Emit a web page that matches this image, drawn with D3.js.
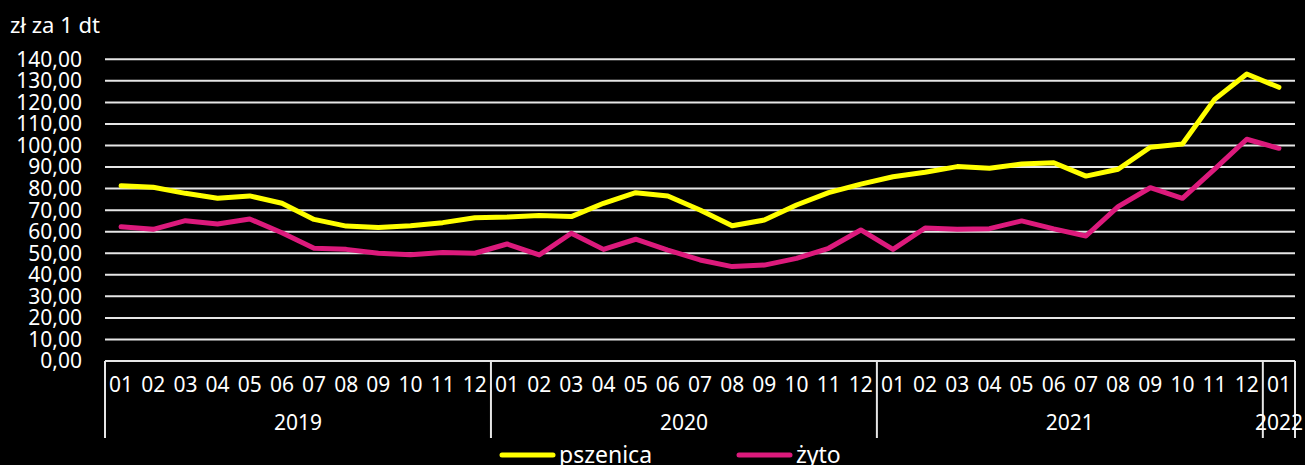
<!DOCTYPE html>
<html>
<head>
<meta charset="utf-8">
<script src="https://cdn.jsdelivr.net/npm/d3@7"></script>
<style>
  body { margin: 0; background: #000; }
  svg text { font-family: "Noto Sans", sans-serif; fill: #fff; }
</style>
</head>
<body>
<svg id="chart" width="1305" height="465"></svg>
<script>
const years = ["2019", "2020", "2021", "2022"];
const monthsPerYear = [12, 12, 12, 1];
const monthLabels = ["01","02","03","04","05","06","07","08","09","10","11","12"];

// ceny skupu, zł za 1 dt
const pszenica = [81.3, 80.6, 77.8, 75.5, 76.6, 73.2, 65.7, 62.6, 61.9, 62.8, 64.2, 66.5,
  66.8, 67.5, 67.0, 73.2, 78.1, 76.6, 70.1, 62.8, 65.4, 72.4, 78.1, 82.1,
  85.5, 87.6, 90.2, 89.4, 91.4, 92.0, 85.8, 89.0, 99.2, 100.7, 121.4, 133.2,
  127.0];
const zyto = [62.3, 61.1, 65.1, 63.6, 65.9, 59.5, 52.3, 51.8, 50.0, 49.3, 50.3, 50.0,
  54.3, 49.2, 59.3, 51.8, 56.5, 51.5, 46.9, 43.8, 44.5, 47.6, 52.3, 60.8,
  51.8, 61.7, 61.1, 61.4, 65.0, 61.3, 58.0, 71.6, 80.4, 75.5, 89.0, 102.9,
  98.7];
const yTicks = d3.range(0, 141, 10);

const svg = d3.select("#chart");
const plotLeft = 105, plotRight = 1295, plotTop = 59.3, plotBottom = 361;

// build category list (year, month)
const cats = [];
years.forEach((yr, i) => {
  for (let m = 0; m < monthsPerYear[i]; m++) cats.push({ year: yr, month: monthLabels[m], key: yr + "-" + monthLabels[m] });
});

const x = d3.scaleBand().domain(cats.map(d => d.key)).range([plotLeft, plotRight]).padding(0);
const y = d3.scaleLinear().domain([0, 140]).range([plotBottom, plotTop]);

// gridlines
svg.append("g")
  .selectAll("line")
  .data(yTicks.filter(d => d > 0))
  .join("line")
  .attr("x1", plotLeft).attr("x2", plotRight)
  .attr("y1", d => y(d)).attr("y2", d => y(d))
  .attr("stroke", "#e6e6e6").attr("stroke-width", 2);

// y axis labels
svg.append("g")
  .selectAll("text")
  .data(yTicks)
  .join("text")
  .attr("x", 82)
  .attr("y", d => y(d))
  .attr("dy", "0.35em")
  .attr("text-anchor", "end")
  .attr("font-size", 21)
  .text(d => d3.format(".2f")(d).replace(".", ","));

svg.append("text")
  .attr("x", 10).attr("y", 33)
  .attr("font-size", 22)
  .text("zł za 1 dt");

// x axis
const axis = svg.append("g");
axis.append("line")
  .attr("x1", plotLeft).attr("x2", plotRight)
  .attr("y1", plotBottom).attr("y2", plotBottom)
  .attr("stroke", "#e6e6e6").attr("stroke-width", 2);

axis.selectAll("text.month")
  .data(cats)
  .join("text")
  .attr("class", "month")
  .attr("x", d => x(d.key) + x.bandwidth() / 2)
  .attr("y", 392)
  .attr("text-anchor", "middle")
  .attr("font-size", 21)
  .text(d => d.month);

// year groups
let idx = 0;
const yearGroups = years.map((yr, i) => {
  const first = cats[idx].key, last = cats[idx + monthsPerYear[i] - 1].key;
  idx += monthsPerYear[i];
  return { year: yr, x0: x(first), x1: x(last) + x.bandwidth() };
});

axis.selectAll("line.sep")
  .data([plotLeft, ...yearGroups.map(g => g.x1)])
  .join("line")
  .attr("class", "sep")
  .attr("x1", d => d).attr("x2", d => d)
  .attr("y1", plotBottom).attr("y2", 438)
  .attr("stroke", "#e6e6e6").attr("stroke-width", 2);

axis.selectAll("text.year")
  .data(yearGroups)
  .join("text")
  .attr("class", "year")
  .attr("x", d => (d.x0 + d.x1) / 2)
  .attr("y", 430)
  .attr("text-anchor", "middle")
  .attr("font-size", 21)
  .text(d => d.year);

// lines
const series = [
  { name: "pszenica", values: pszenica, color: "#ffff00" },
  { name: "żyto", values: zyto, color: "#dc1a7c" }
];
const line = d3.line()
  .x((d, i) => x(cats[i].key) + x.bandwidth() / 2)
  .y(d => y(d));

svg.append("g")
  .selectAll("path")
  .data(series.slice().reverse())
  .join("path")
  .attr("d", d => line(d.values))
  .attr("fill", "none")
  .attr("stroke", d => d.color)
  .attr("stroke-width", 5)
  .attr("stroke-linecap", "round")
  .attr("stroke-linejoin", "round");

// legend
const legendX = [500, 737];
const legend = svg.append("g")
  .selectAll("g")
  .data(series)
  .join("g")
  .attr("transform", (d, i) => `translate(${legendX[i]},455)`);
legend.append("line")
  .attr("x1", 2).attr("x2", 53)
  .attr("stroke", d => d.color)
  .attr("stroke-width", 5)
  .attr("stroke-linecap", "round");
legend.append("text")
  .attr("x", 59).attr("y", 0)
  .attr("dy", "0.35em")
  .attr("font-size", 23)
  .text(d => d.name);
</script>
</body>
</html>
